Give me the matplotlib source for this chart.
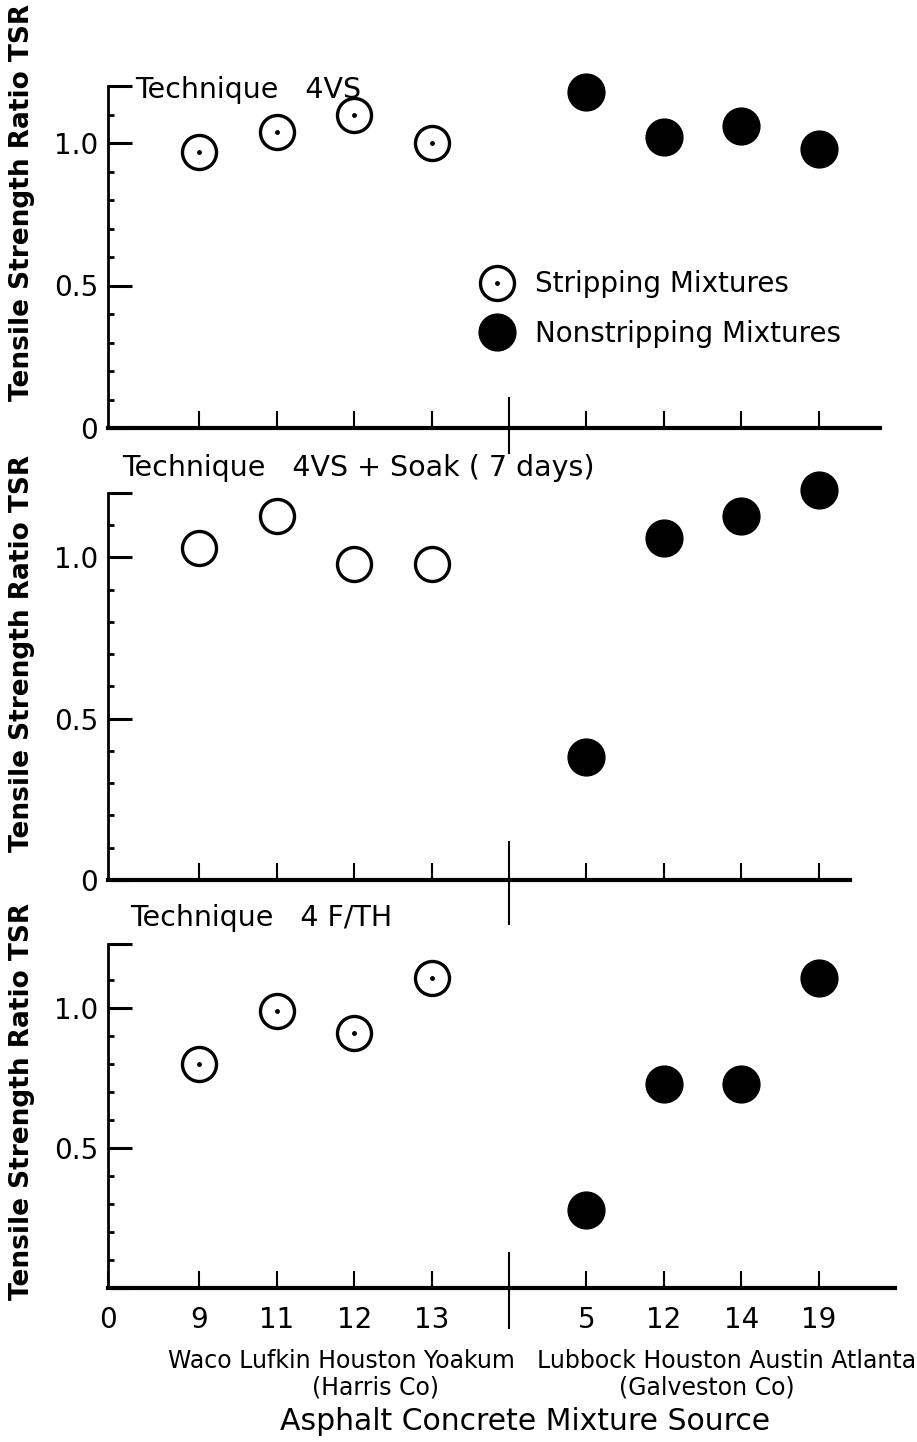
import numpy as np
import matplotlib
matplotlib.use('Agg')
import matplotlib.pyplot as plt

# mixture source codes (stripping group, then nonstripping group)
strip_codes = ['9', '11', '12', '13']
nonstrip_codes = ['5', '12', '14', '19']
strip_sources = 'Waco Lufkin Houston Yoakum'
nonstrip_sources = 'Lubbock Houston Austin Atlanta'

# tensile strength ratio
vs_stripping = [0.97, 1.04, 1.10, 1.00]
vs_nonstripping = [1.18, 1.02, 1.06, 0.98]
soak_stripping = [1.03, 1.13, 0.98, 0.98]
soak_nonstripping = [0.38, 1.06, 1.13, 1.21]
ft_stripping = [0.80, 0.99, 0.91, 1.11]
ft_nonstripping = [0.28, 0.73, 0.73, 1.11]

titles = ['Technique   4VS', 'Technique   4VS + Soak ( 7 days)', 'Technique   4 F/TH']

W, H = 917, 1442
X0 = 108          # pixel of the y axis
XS = 77.4         # pixels per category slot
XMIN = -0.18


def fx(px):
    return px / W


def fy(py):
    return 1 - py / H


fig = plt.figure(figsize=(W / 100, H / 100), dpi=100)
plt.rcParams['font.family'] = 'DejaVu Sans'

pos_strip = np.arange(1, 5)
pos_non = np.arange(6, 10)
positions = list(pos_strip) + list(pos_non)

panels = [
    dict(strip=vs_stripping, non=vs_nonstripping, top=86, bot=428, right=880,
         ymax=1.2, dot=True, div=(398, 453), title=(135, 90), lab=202, zero=True),
    dict(strip=soak_stripping, non=soak_nonstripping, top=493, bot=880, right=850,
         ymax=1.2, dot=False, div=(842, 924), title=(122, 468), lab=653, zero=True),
    dict(strip=ft_stripping, non=ft_nonstripping, top=944, bot=1288, right=895,
         ymax=1.23, dot=True, div=(1253, 1328), title=(130, 918), lab=1101, zero=False),
]

for i, p in enumerate(panels):
    xmax = XMIN + (p['right'] - X0) / XS
    ax = fig.add_axes([fx(X0), fy(p['bot']), (p['right'] - X0) / W,
                       (p['bot'] - p['top']) / H])
    ax.set_xlim(XMIN, xmax)
    ax.set_ylim(0, p['ymax'])
    for s in ['top', 'right']:
        ax.spines[s].set_visible(False)
    ax.spines['bottom'].set_linewidth(3)
    ax.spines['left'].set_linewidth(2)

    open_h, = ax.plot(pos_strip, p['strip'], 'o', ms=24.5, mfc='white', mec='black',
                      mew=2.4, clip_on=False, zorder=3)
    dot_h, = ax.plot(pos_strip, p['strip'], 'o', ms=2.5, color='black', clip_on=False,
                     zorder=4)
    if not p['dot']:
        dot_h.set_visible(False)
    fill_h, = ax.plot(pos_non, p['non'], 'o', ms=26.5, color='black', clip_on=False, zorder=3)

    # y ticks
    ax.set_yticks([0, 0.5, 1.0, p['ymax']],
                  ['0' if p['zero'] else '', '0.5', '1.0', ''])
    ax.set_yticks(np.arange(1, 12) / 10, minor=True)
    ax.tick_params(axis='y', which='major', direction='in', length=17, width=2.2,
                   labelsize=20, pad=7)
    ax.tick_params(axis='y', which='minor', direction='in', length=4, width=2)

    # x ticks
    if i == 2:
        ax.set_xticks([XMIN] + positions, ['0'] + strip_codes + nonstrip_codes)
    else:
        ax.set_xticks(positions, [])
    ax.tick_params(axis='x', direction='in', length=12, width=1.5, labelsize=20, pad=13)

    # divider between stripping and nonstripping groups
    h = p['bot'] - p['top']
    ax.axvline(5, ymin=(p['bot'] - p['div'][0]) / h, ymax=(p['bot'] - p['div'][1]) / h,
               color='black', lw=1.5, clip_on=False)

    fig.text(fx(p['title'][0]), fy(p['title'][1]), titles[i], ha='left', va='center',
             fontsize=20.5)
    fig.text(fx(22), fy(p['lab']), 'Tensile Strength Ratio TSR', rotation=90,
             ha='center', va='center', fontsize=19, fontweight='bold')

    if i == 0:
        ax.legend([(open_h, dot_h), fill_h], ['Stripping Mixtures', 'Nonstripping Mixtures'],
                  loc='center left', bbox_to_anchor=(fx(464), fy(309)),
                  bbox_transform=fig.transFigure, frameon=False, fontsize=20,
                  borderpad=0, handlelength=1.4, handletextpad=0.67, labelspacing=0.77,
                  numpoints=1)

fig.text(fx(341), fy(1361), strip_sources, ha='center', va='center', fontsize=17)
fig.text(fx(727), fy(1361), nonstrip_sources, ha='center', va='center', fontsize=17)
fig.text(fx(375), fy(1387), '(Harris Co)', ha='center', va='center', fontsize=17)
fig.text(fx(707), fy(1387), '(Galveston Co)', ha='center', va='center', fontsize=17)
fig.text(fx(525), fy(1421), 'Asphalt Concrete Mixture Source', ha='center', va='center',
         fontsize=21.5)

fig.savefig('out.png', dpi=100)
